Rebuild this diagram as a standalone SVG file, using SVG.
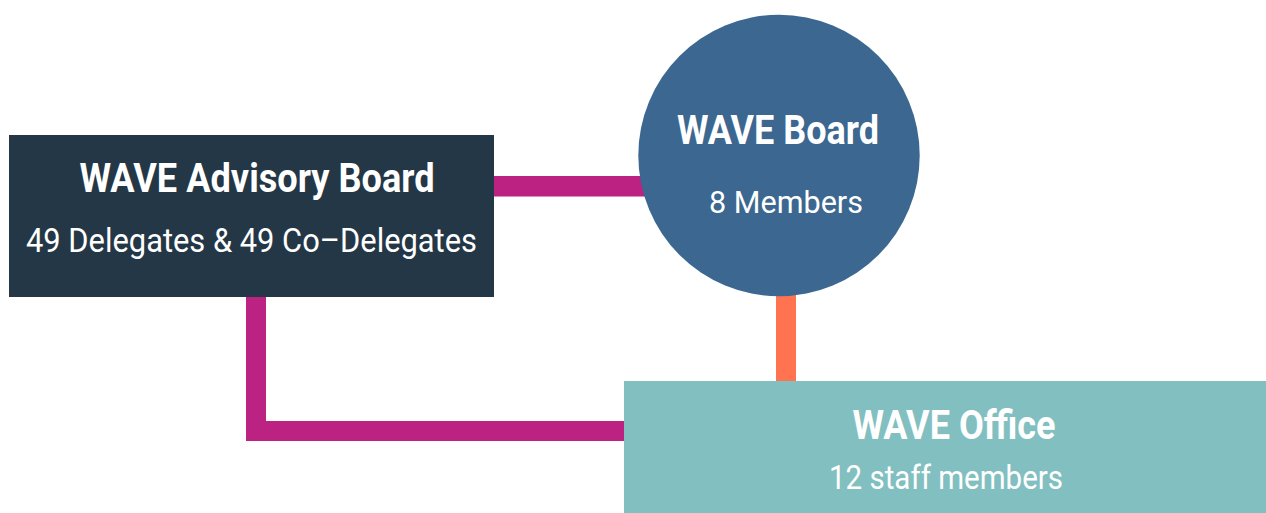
<svg xmlns="http://www.w3.org/2000/svg" width="1266" height="513" viewBox="0 0 1266 513">
<style>
.t{font-family:"Liberation Sans Narrow","Roboto","Liberation Sans",sans-serif;font-weight:bold;fill:#ffffff;text-anchor:middle}
.s{font-family:"Liberation Sans Narrow","Roboto","Liberation Sans",sans-serif;font-weight:normal;fill:#ffffff;text-anchor:middle}
.mag{fill:#BC2282}
</style>
<rect width="1266" height="513" fill="#ffffff"/>
<g id="connectors">
<rect class="mag" x="490" y="176" width="160" height="20.5"/>
<rect class="mag" x="246" y="290" width="20" height="151"/>
<rect class="mag" x="246" y="421" width="384" height="20"/>
<rect x="776" y="290" width="20" height="96" fill="#FF7350"/>
</g>
<g id="advisory">
<rect x="9" y="135" width="485" height="162" fill="#243746"/>
<text class="t" x="257" y="192" font-size="41" textLength="355" lengthAdjust="spacingAndGlyphs">WAVE Advisory Board</text>
<text class="s" x="251.5" y="252" font-size="33" textLength="451" lengthAdjust="spacingAndGlyphs">49 Delegates &amp; 49 Co–Delegates</text>
</g>
<g id="board">
<circle cx="779" cy="155.5" r="140.7" fill="#3B6790"/>
<text class="t" x="778" y="144" font-size="40" textLength="202" lengthAdjust="spacingAndGlyphs">WAVE Board</text>
<text class="s" x="786" y="213" font-size="32" textLength="154" lengthAdjust="spacingAndGlyphs">8 Members</text>
</g>
<g id="office">
<rect x="624" y="381" width="642" height="132" fill="#82BFC0"/>
<text class="t" x="954" y="438.5" font-size="40" textLength="203" lengthAdjust="spacingAndGlyphs">WAVE Office</text>
<text class="s" x="946" y="489" font-size="33" textLength="234" lengthAdjust="spacingAndGlyphs">12 staff members</text>
</g>
</svg>
